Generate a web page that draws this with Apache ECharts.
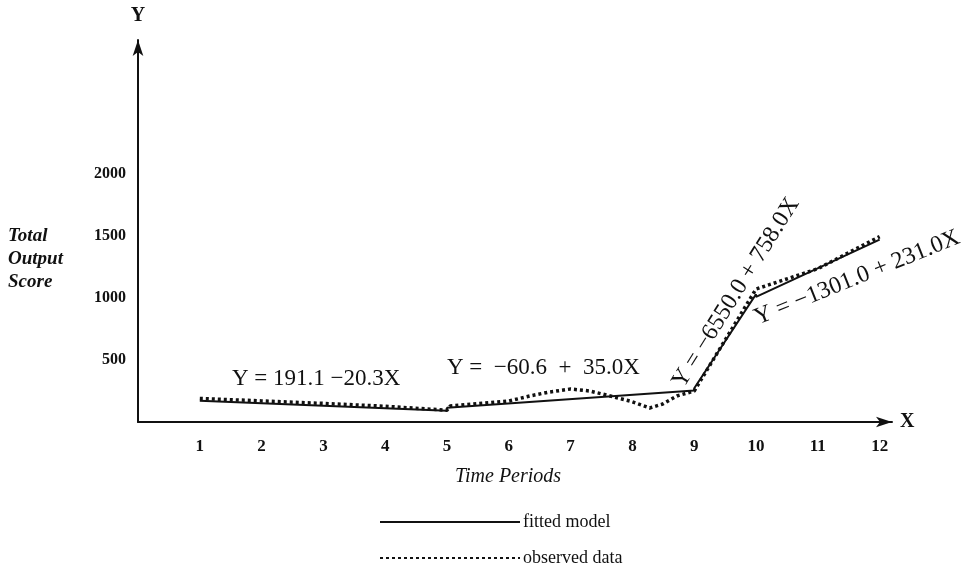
<!DOCTYPE html>
<html>
<head>
<meta charset="utf-8">
<script src="https://cdn.jsdelivr.net/npm/echarts@6/dist/echarts.min.js"></script>
<style>
  html, body { margin: 0; padding: 0; background: #fff; }
  #chart { width: 970px; height: 571px; }
</style>
</head>
<body>
<div id="chart"></div>
<script>
// tick labels shown on the axes
const xTicks = [1, 2, 3, 4, 5, 6, 7, 8, 9, 10, 11, 12]
const yTicks = [500, 1000, 1500, 2000]

// fitted model: piecewise segments, [time period, score]
const fittedModel = [
  [1, 171], [5, 90], [5, 114], [9, 254], [9, 272], [10, 1030], [10, 1009], [12, 1471]
]

const observedData = [
  [1, 190], [2, 170], [3, 150], [4, 127], [5, 95], [5.05, 129], [6, 169], [6.34, 210],
  [6.66, 242], [7, 266], [7.31, 250], [7.64, 210], [7.96, 169], [8.28, 113], [8.49, 145],
  [8.72, 210], [9, 250], [10, 1072], [11, 1236], [12, 1495]
]

const serif = "'Liberation Serif', 'DejaVu Serif', serif"
const eqFont = "23px 'Liberation Serif', serif"

const legendBase = {
  left: 374,
  itemWidth: 140,
  itemHeight: 14,
  itemGap: 4,
  itemStyle: { opacity: 0 },
  textStyle: { fontFamily: serif, fontSize: 18, color: '#111', padding: [0, 0, 0, -2] }
}

const myChart = echarts.init(document.getElementById('chart'))
const option = {
  backgroundColor: '#fff',
  animation: false,
  grid: { left: 138, right: 78, top: 40, bottom: 149 },
  legend: [
    Object.assign({}, legendBase, { top: 508, data: ['fitted model'] }),
    Object.assign({}, legendBase, { top: 544, data: ['observed data'] })
  ],
  xAxis: {
    type: 'value',
    min: 0,
    max: 12.2,
    interval: 1,
    name: 'X',
    nameGap: 8,
    nameTextStyle: { fontFamily: serif, fontSize: 20, fontWeight: 'bold', color: '#111', verticalAlign: 'middle' },
    splitLine: { show: false },
    axisTick: { show: false },
    axisLine: {
      lineStyle: { color: '#111', width: 2 },
      symbol: ['none', 'arrow'],
      symbolSize: [8, 16]
    },
    axisLabel: {
      margin: 16,
      showMaxLabel: false,
      fontFamily: serif, fontSize: 17, fontWeight: 'bold', color: '#111',
      formatter: v => xTicks.includes(v) ? String(v) : ''
    }
  },
  yAxis: {
    type: 'value',
    min: 0,
    max: 3080,
    interval: 500,
    name: 'Y',
    nameGap: 14,
    nameTextStyle: { fontFamily: serif, fontSize: 20, fontWeight: 'bold', color: '#111' },
    splitLine: { show: false },
    axisTick: { show: false },
    axisLine: {
      lineStyle: { color: '#111', width: 2 },
      symbol: ['none', 'arrow'],
      symbolSize: [8, 16]
    },
    axisLabel: {
      margin: 12,
      showMaxLabel: false,
      fontFamily: serif, fontSize: 16, fontWeight: 'bold', color: '#111',
      formatter: v => yTicks.includes(v) ? String(v) : ''
    }
  },
  graphic: [
    { type: 'text', left: 8, top: 225, style: { text: 'Total\nOutput\nScore', font: "italic bold 19px 'Liberation Serif', serif", fill: '#111', lineHeight: 23 } },
    { type: 'text', left: 455, top: 467, style: { text: 'Time Periods', font: "italic 20px 'Liberation Serif', serif", fill: '#111' } },
    { type: 'text', left: 232, top: 367, style: { text: 'Y = 191.1 \u221220.3X', font: eqFont, fill: '#111' } },
    { type: 'text', left: 447, top: 356, style: { text: 'Y =  \u221260.6  +  35.0X', font: eqFont, fill: '#111' } },
    { type: 'text', x: 688, y: 392, rotation: 58 * Math.PI / 180, style: { text: 'Y = \u22126550.0 + 758.0X', font: "24px 'Liberation Serif', serif", fill: '#111', verticalAlign: 'bottom' } },
    { type: 'text', x: 760, y: 330, rotation: 22 * Math.PI / 180, style: { text: 'Y = \u22121301.0 + 231.0X', font: "24px 'Liberation Serif', serif", fill: '#111', verticalAlign: 'bottom' } }
  ],
  series: [
    {
      name: 'fitted model',
      type: 'line',
      data: fittedModel,
      symbol: 'none',
      lineStyle: { color: '#111', width: 2, type: 'solid' },
      itemStyle: { color: '#111' },
      z: 3
    },
    {
      name: 'observed data',
      type: 'line',
      data: observedData,
      symbol: 'none',
      lineStyle: { color: '#111', width: 3.5, type: [3, 3] },
      itemStyle: { color: '#111' },
      z: 2
    }
  ]
}
myChart.setOption(option)
</script>
</body>
</html>
